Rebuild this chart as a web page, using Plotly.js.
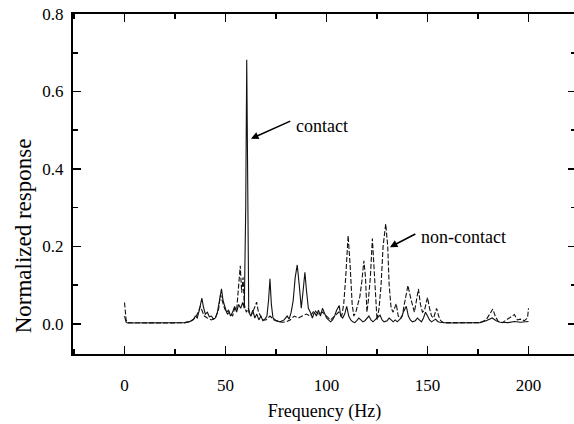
<!DOCTYPE html>
<html>
<head>
<meta charset="utf-8">
<script src="https://cdn.plot.ly/plotly-3.0.1.min.js"></script>
<style>
html, body { margin: 0; padding: 0; overflow: hidden; background: #fff; }
#chart { width: 578px; height: 424px; }
</style>
</head>
<body>
<div id="chart"></div>
<script>
// Contact (solid line)
const contactFreq = [0, 0.8, 1.5, 10, 20, 30, 32, 34, 35, 36, 37, 38.3, 39, 40, 41, 42, 43, 44, 45, 46, 47, 48, 48.8, 49.5, 50.5, 51.5, 52.5, 53.5, 54.5, 55.5, 56.5, 57.5, 58.5, 59.3, 60, 60.5, 61, 61.5, 62.5, 63.5, 64.5, 65.5, 66.5, 67.5, 68.5, 69.5, 70.5, 71.3, 72, 72.7, 73.5, 75, 77, 79, 80.5, 81.5, 82.5, 83.5, 84.5, 85.5, 86.5, 87.5, 88.5, 89.3, 90, 91, 92, 93, 94, 95, 96, 97, 98, 99, 100, 101, 102, 103, 104, 105, 106.3, 107, 108, 109, 110, 111, 112, 113, 114, 115, 116, 117, 118, 119, 120, 121, 122, 123, 124, 125, 126.5, 127.5, 128.5, 130, 131, 132, 133, 134, 135, 136, 137, 138, 139.5, 140.5, 141.5, 142.5, 144, 145, 146, 147, 148, 149, 150, 151, 152, 153, 154, 155, 156, 160, 170, 176, 179, 182, 184, 186, 190, 193, 196, 200];
const contactResp = [0.02, 0.004, 0.002, 0.002, 0.002, 0.003, 0.005, 0.01, 0.02, 0.015, 0.035, 0.066, 0.045, 0.025, 0.03, 0.018, 0.02, 0.012, 0.015, 0.03, 0.06, 0.09, 0.06, 0.045, 0.03, 0.035, 0.02, 0.03, 0.045, 0.03, 0.05, 0.04, 0.055, 0.04, 0.3, 0.682, 0.3, 0.03, 0.02, 0.035, 0.015, 0.025, 0.01, 0.02, 0.008, 0.012, 0.02, 0.06, 0.116, 0.05, 0.015, 0.008, 0.005, 0.01, 0.02, 0.012, 0.03, 0.06, 0.12, 0.152, 0.1, 0.04, 0.09, 0.133, 0.09, 0.04, 0.03, 0.015, 0.03, 0.02, 0.035, 0.02, 0.04, 0.025, 0.015, 0.01, 0.005, 0.01, 0.02, 0.035, 0.047, 0.02, 0.015, 0.025, 0.045, 0.02, 0.01, 0.005, 0.003, 0.008, 0.015, 0.01, 0.005, 0.008, 0.015, 0.02, 0.01, 0.005, 0.01, 0.015, 0.022, 0.01, 0.005, 0.008, 0.015, 0.01, 0.005, 0.01, 0.005, 0.01, 0.015, 0.03, 0.045, 0.02, 0.01, 0.005, 0.008, 0.015, 0.01, 0.005, 0.015, 0.03, 0.02, 0.01, 0.005, 0.008, 0.012, 0.006, 0.004, 0.002, 0.002, 0.003, 0.008, 0.015, 0.008, 0.004, 0.003, 0.006, 0.004, 0.006];

// Non-contact (dashed line)
const noncontactFreq = [0, 0.8, 1.5, 10, 20, 30, 33, 35, 36.5, 37.5, 38.5, 39.5, 41, 43, 45, 46.5, 47.5, 48.5, 49.5, 51, 52, 53.5, 54.5, 55.5, 56.5, 57.3, 58, 58.7, 59.3, 60.3, 61.3, 62.5, 63.5, 64.5, 65.4, 66.3, 67.3, 68.5, 70, 72, 74, 76, 78, 80, 82, 84, 86, 88, 90, 92, 94, 96, 98, 100, 102, 104, 106, 107.5, 108.5, 109.5, 110.7, 111.7, 112.7, 113.5, 114.5, 115.5, 116.5, 117.5, 118.5, 119.3, 120, 120.7, 121.7, 122.7, 123.5, 124.3, 125, 126, 127, 128, 129.3, 130.3, 131, 132, 133, 134.5, 135.5, 136.5, 137.5, 138.5, 140.3, 141.5, 142.5, 143.5, 144.5, 145.5, 146.5, 147.5, 148.5, 150, 151, 152, 153, 154.5, 155.5, 156.5, 158, 170, 176, 179, 181, 182.3, 183.5, 185, 187, 189, 191, 193, 194.5, 196, 198, 199.5, 200];
const noncontactResp = [0.055, 0.01, 0.003, 0.002, 0.002, 0.003, 0.008, 0.015, 0.03, 0.045, 0.03, 0.02, 0.015, 0.01, 0.015, 0.035, 0.075, 0.06, 0.04, 0.025, 0.03, 0.02, 0.04, 0.035, 0.1, 0.15, 0.08, 0.12, 0.05, 0.03, 0.04, 0.02, 0.03, 0.045, 0.056, 0.03, 0.02, 0.01, 0.01, 0.02, 0.01, 0.006, 0.004, 0.005, 0.01, 0.02, 0.015, 0.02, 0.025, 0.02, 0.035, 0.025, 0.03, 0.02, 0.01, 0.02, 0.03, 0.02, 0.05, 0.12, 0.228, 0.15, 0.05, 0.02, 0.03, 0.05, 0.07, 0.11, 0.163, 0.12, 0.03, 0.06, 0.12, 0.22, 0.15, 0.05, 0.01, 0.04, 0.1, 0.2, 0.258, 0.2, 0.1, 0.04, 0.03, 0.052, 0.02, 0.015, 0.02, 0.05, 0.099, 0.07, 0.05, 0.03, 0.06, 0.09, 0.05, 0.03, 0.035, 0.068, 0.04, 0.02, 0.015, 0.04, 0.02, 0.008, 0.003, 0.002, 0.003, 0.01, 0.025, 0.038, 0.02, 0.006, 0.003, 0.01, 0.018, 0.024, 0.01, 0.012, 0.008, 0.015, 0.04];

const xTickVals = [0, 50, 100, 150, 200];
const yTickVals = [0.0, 0.2, 0.4, 0.6, 0.8];

const serif = '"Liberation Serif", "Times New Roman", serif';

const traces = [
  { x: contactFreq, y: contactResp, type: 'scatter', mode: 'lines', name: 'contact',
    line: { color: '#111', width: 1.1 } },
  { x: noncontactFreq, y: noncontactResp, type: 'scatter', mode: 'lines', name: 'non-contact',
    line: { color: '#111', width: 1.1, dash: '5px,2px' } }
];

const axisCommon = {
  showline: true, linecolor: '#000', linewidth: 2, mirror: 'allticks',
  ticks: 'inside', ticklen: 8, tickwidth: 1.5, tickcolor: '#000',
  showgrid: false, zeroline: false,
  tickfont: { family: serif, size: 17, color: '#000' }
};

const layout = {
  width: 578, height: 424,
  margin: { l: 73, r: 2, t: 14, b: 70 },
  paper_bgcolor: '#fff', plot_bgcolor: '#fff',
  showlegend: false,
  font: { family: serif, color: '#000' },
  xaxis: Object.assign({}, axisCommon, {
    range: [-25.5, 223.5], tickmode: 'array', tickvals: xTickVals,
    ticktext: xTickVals.map(String),
    ticklabelstandoff: 15,
    minor: { ticks: 'inside', ticklen: 5, tickwidth: 1.5, tickcolor: '#000', dtick: 25, tick0: 0, showgrid: false },
    title: { text: 'Frequency (Hz)', font: { family: serif, size: 18, color: '#000' }, standoff: 10 }
  }),
  yaxis: Object.assign({}, axisCommon, {
    range: [-0.078, 0.8001], tickmode: 'array', tickvals: yTickVals,
    ticktext: yTickVals.map(v => v.toFixed(1)),
    ticklabelstandoff: 4,
    minor: { ticks: 'inside', ticklen: 5, tickwidth: 1.5, tickcolor: '#000', dtick: 0.1, tick0: 0, showgrid: false }
  }),
  annotations: [
    { xref: 'paper', yref: 'paper', x: -0.0994, y: 0.346, text: 'Normalized response',
      textangle: -90, showarrow: false, xanchor: 'center', yanchor: 'middle',
      font: { family: serif, size: 23, color: '#000' } },
    { xref: 'x', yref: 'y', x: 97.8, y: 0.511, text: 'contact', showarrow: false,
      xanchor: 'center', yanchor: 'middle', font: { family: serif, size: 18, color: '#000' } },
    { xref: 'x', yref: 'y', x: 62.6, y: 0.478, axref: 'x', ayref: 'y', ax: 82.8, ay: 0.525,
      text: '', showarrow: true, arrowhead: 2, arrowsize: 1, arrowwidth: 1.5, arrowcolor: '#000', standoff: 0 },
    { xref: 'x', yref: 'y', x: 167.6, y: 0.223, text: 'non-contact', showarrow: false,
      xanchor: 'center', yanchor: 'middle', font: { family: serif, size: 18, color: '#000' } },
    { xref: 'x', yref: 'y', x: 131.4, y: 0.198, axref: 'x', ayref: 'y', ax: 144.7, ay: 0.234,
      text: '', showarrow: true, arrowhead: 2, arrowsize: 1, arrowwidth: 1.5, arrowcolor: '#000', standoff: 0 }
  ]
};

Plotly.newPlot('chart', traces, layout, { displayModeBar: false, staticPlot: true });
</script>
</body>
</html>
